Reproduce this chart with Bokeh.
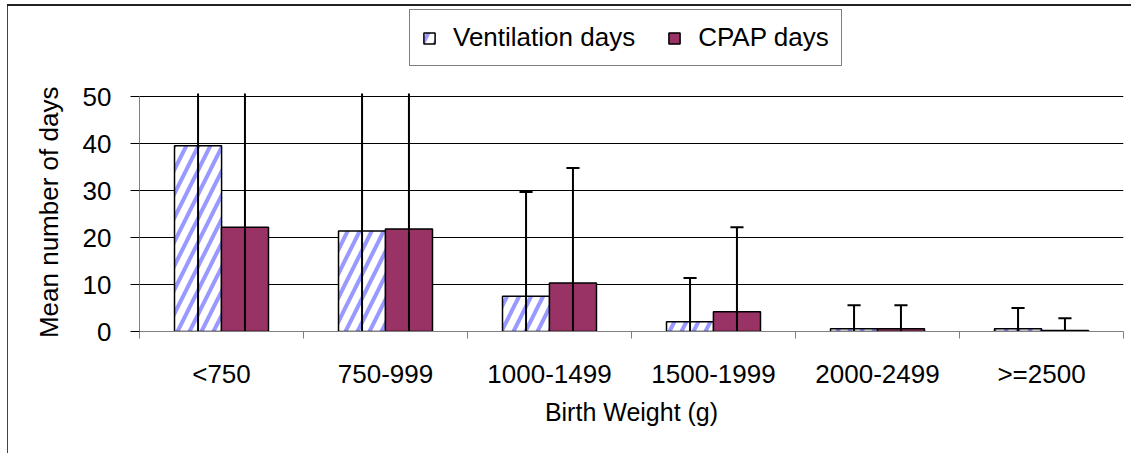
import numpy as np
from bokeh.plotting import figure
from bokeh.models import Range1d, FixedTicker, ColumnDataSource, Legend, LegendItem
from bokeh.embed import file_html
from bokeh.resources import INLINE

# ---- data ----
categories = ["<750", "750-999", "1000-1499", "1500-1999", "2000-2499", ">=2500"]
vent_days = [39.5, 21.4, 7.5, 2.1, 0.6, 0.6]
cpap_days = [22.2, 21.8, 10.3, 4.2, 0.6, 0.2]
# mean + SD (upper end of the error bars)
vent_upper = [80.0, 66.0, 29.7, 11.4, 5.6, 5.0]
cpap_upper = [64.0, 62.0, 34.8, 22.2, 5.6, 2.8]
y_ticks = [0, 10, 20, 30, 40, 50]

FONT = "Liberation Sans"
n = len(categories)
AXIS_TOP = 50.65      # top of the original plot area (error bars are cut there)
Y_END = 69.15         # extra room above the plot area for the legend

centers = np.arange(n) + 0.5
off = 0.143
bw = 0.287
cap = 0.04

vent_x = centers - off
cpap_x = centers + off
vent_arr = np.array(vent_days)
cpap_arr = np.array(cpap_days)
vent_up = np.array(vent_upper)
cpap_up = np.array(cpap_upper)


def make_source(x, mean, up):
    return ColumnDataSource(dict(
        x=x, top=mean,
        up=np.minimum(up, AXIS_TOP),
        low=np.maximum(2 * mean - up, 0),
        x0=np.where(up <= AXIS_TOP, x - cap, np.nan),
        x1=np.where(up <= AXIS_TOP, x + cap, np.nan)))


src_v = make_source(vent_x, vent_arr, vent_up)
src_c = make_source(cpap_x, cpap_arr, cpap_up)

p = figure(width=1131, height=453, output_backend="svg", toolbar_location=None,
           x_range=Range1d(0, n), y_range=Range1d(0, Y_END),
           min_border_left=139, min_border_right=8, min_border_top=6,
           min_border_bottom=122)
p.outline_line_color = None
p.background_fill_color = None
p.border_fill_color = None
p.styles = {
    "background": ("linear-gradient(#222222,#222222) 7px 4px / 1124px 2px no-repeat, "
                   "linear-gradient(#444444,#444444) 7px 4px / 1px 449px no-repeat, "
                   "white"),
}

r_v = p.vbar(x="x", top="top", bottom=0, width=bw, source=src_v,
             fill_color="white", hatch_pattern="/", hatch_color="#9999FF",
             hatch_weight=4, hatch_scale=24, line_color="black", line_width=1.5)
r_c = p.vbar(x="x", top="top", bottom=0, width=bw, source=src_c,
             fill_color="#993366", line_color="black", line_width=1.5)

for s in (src_v, src_c):
    p.segment(x0="x", y0="low", x1="x", y1="up", source=s,
              line_color="black", line_width=2)
    p.segment(x0="x0", y0="up", x1="x1", y1="up", source=s,
              line_color="black", line_width=2)

# grid
p.xgrid.visible = False
p.ygrid.ticker = FixedTicker(ticks=y_ticks)
p.ygrid.grid_line_color = "black"
p.ygrid.grid_line_width = 1

# y axis
p.yaxis.ticker = FixedTicker(ticks=y_ticks)
p.yaxis.bounds = (0, y_ticks[-1])
p.yaxis.axis_line_color = "#808080"
p.yaxis.major_tick_line_color = "black"
p.yaxis.major_tick_out = 9
p.yaxis.major_tick_in = 0
p.yaxis.minor_tick_line_color = None
p.yaxis.major_label_text_font = FONT
p.yaxis.major_label_text_font_size = "26px"
p.yaxis.major_label_text_color = "black"
p.yaxis.major_label_standoff = 19
# trailing no-break spaces keep the (frame-centred) title centred on the 0-50 axis
p.yaxis.axis_label = "Mean number of days" + "\u00a0" * 12
p.yaxis.axis_label_text_font = FONT
p.yaxis.axis_label_text_font_size = "26px"
p.yaxis.axis_label_text_font_style = "normal"
p.yaxis.axis_label_text_color = "black"
p.yaxis.axis_label_standoff = 16

# x axis
p.xaxis.ticker = FixedTicker(ticks=list(centers), minor_ticks=list(range(n + 1)))
p.xaxis.major_label_overrides = {float(c): lab for c, lab in zip(centers, categories)}
p.xaxis.axis_line_color = "#808080"
p.xaxis.major_tick_line_color = None
p.xaxis.major_tick_out = 0
p.xaxis.major_tick_in = 0
p.xaxis.minor_tick_line_color = "#808080"
p.xaxis.minor_tick_out = 7
p.xaxis.minor_tick_in = 0
p.xaxis.major_label_text_font = FONT
p.xaxis.major_label_text_font_size = "26px"
p.xaxis.major_label_text_color = "black"
p.xaxis.major_label_standoff = 20
p.xaxis.axis_label = "Birth Weight (g)"
p.xaxis.axis_label_text_font = FONT
p.xaxis.axis_label_text_font_size = "25px"
p.xaxis.axis_label_text_font_style = "normal"
p.xaxis.axis_label_text_color = "black"
p.xaxis.axis_label_standoff = 6

legend = Legend(items=[LegendItem(label="Ventilation days", renderers=[r_v]),
                       LegendItem(label="CPAP days", renderers=[r_c])],
                location=(270, 265), orientation="horizontal")
legend.glyph_width = 14
legend.glyph_height = 14
legend.label_standoff = 17
legend.spacing = 32
legend.padding = 12
legend.margin = 0
legend.label_text_font = FONT
legend.label_text_font_size = "26px"
legend.label_text_color = "black"
legend.border_line_color = "black"
legend.border_line_width = 1
legend.background_fill_color = "white"
legend.background_fill_alpha = 1
p.add_layout(legend)

open("out.html", "w").write(file_html(p, INLINE))
